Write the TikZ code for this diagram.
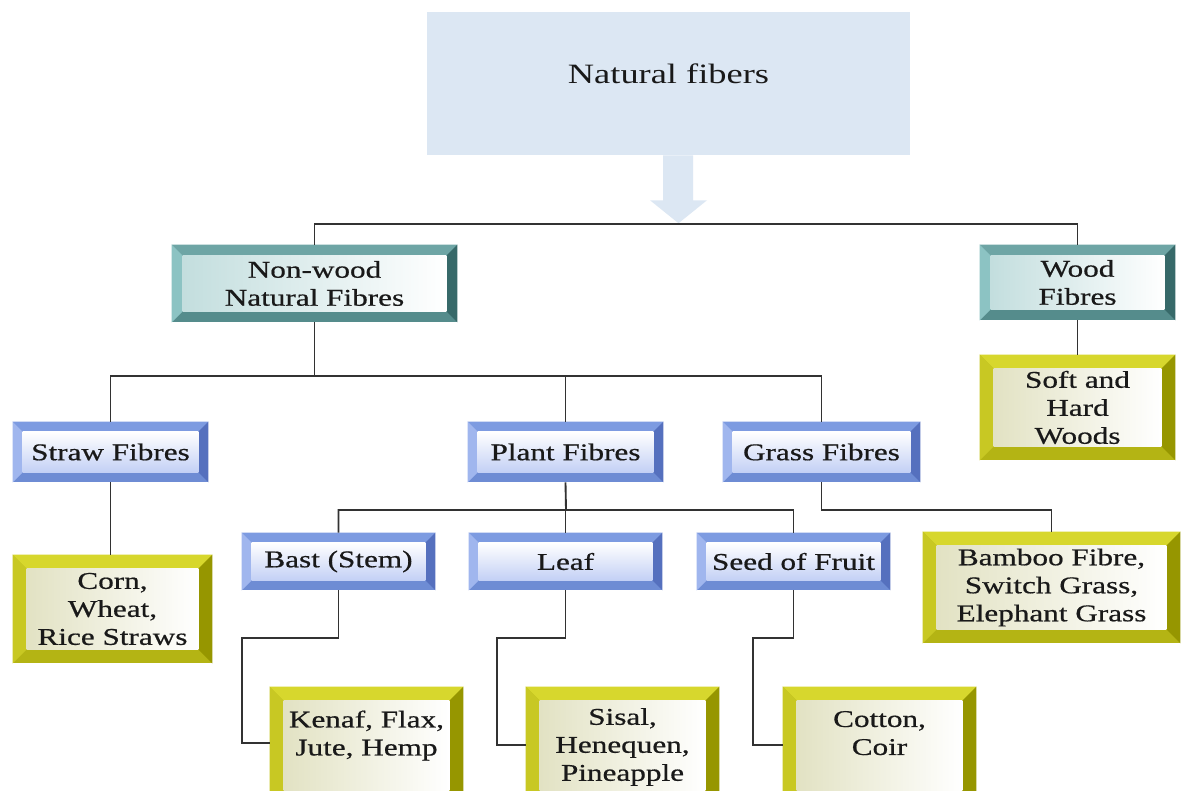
\documentclass[tikz,border=0pt]{standalone}
\usepackage{fontspec}
\setmainfont{Liberation Serif}[FakeStretch=1.3]
\newfontfamily\boxfont{Liberation Serif}[FakeStretch=1.3,FakeBold=0.6]
\usetikzlibrary{calc,backgrounds}

\definecolor{txt}{RGB}{25,25,25}
\definecolor{wire}{RGB}{50,50,50}
\definecolor{topfill}{RGB}{220,231,243}
\definecolor{tealT}{RGB}{110,165,165}
\definecolor{tealL}{RGB}{140,195,195}
\definecolor{tealM}{RGB}{85,140,140}
\definecolor{tealD}{RGB}{55,105,105}
\definecolor{tealF}{RGB}{195,222,222}
\definecolor{blueT}{RGB}{125,155,225}
\definecolor{blueL}{RGB}{160,182,238}
\definecolor{blueM}{RGB}{110,140,212}
\definecolor{blueD}{RGB}{85,112,190}
\definecolor{blueF}{RGB}{195,208,245}
\definecolor{yelT}{RGB}{215,215,45}
\definecolor{yelL}{RGB}{200,200,35}
\definecolor{yelM}{RGB}{180,180,20}
\definecolor{yelD}{RGB}{150,150,0}
\definecolor{yelF}{RGB}{226,226,195}

\tikzset{
  tealface/.style={left color=tealF, right color=white},
  blueface/.style={top color=white, bottom color=blueF},
  yelface/.style={left color=yelF, right color=white},
  box/.style={inner sep=0pt, align=center, text=txt, minimum width=146.25pt, minimum height=45pt,
    font=\boxfont\fontsize{18}{21}\selectfont},
  topbox/.style={fill=topfill, minimum width=362.25pt, minimum height=107.25pt, text=txt,
    font=\fontsize{21}{25}\selectfont, text height=15pt, text depth=15pt},
  wire/.style={draw=wire, line width=1.4pt}
}

% bevelled frame behind a node: node, colour set, depth
\newcommand\bevel[3]{%
  \fill[#2M] (#1.south west) rectangle (#1.north east);
  \fill[#2T] (#1.north west) -- (#1.north east) -- ($(#1.north east)+(-#3,#3)$) -- ($(#1.north west)+(#3,#3)$) -- cycle;
  \fill[#2L] (#1.north west) -- ($(#1.north west)+(#3,#3)$) -- ($(#1.south west)+(#3,-#3)$) -- (#1.south west) -- cycle;
  \fill[#2D] (#1.north east) -- ($(#1.north east)+(-#3,#3)$) -- ($(#1.south east)+(-#3,-#3)$) -- (#1.south east) -- cycle;
  \shade[#2face] ($(#1.north west)+(#3,#3)$) rectangle ($(#1.south east)+(-#3,-#3)$);
}

\begin{document}
\begin{tikzpicture}[x=0.75pt,y=0.75pt,yscale=-1,xscale=1]
\useasboundingbox (0,0) rectangle (1181,791);
\clip (0,0) rectangle (1181,791);

% Title box and arrow
\node[topbox] (top) at (668.5,83.5) {Natural fibers};
\fill[topfill] ($(top.south)+(-5.5,0)$) -- ++(0,45) -- ++(-13,0) -- ++(28.5,23) -- ++(28.5,-23) -- ++(-14,0) -- ++(0,-45) -- cycle;

% Level 1
\node[box, minimum width=213.75pt, minimum height=57.75pt] (nonwood) at (314.5,283.5) {Non-wood\\Natural Fibres};
\node[box, minimum height=56.25pt] (wood) at (1077.5,282.5) {Wood\\Fibres};
\node[box, minimum height=78.75pt] (softhard) at (1077.5,407.5) {Soft and\\Hard\\Woods};

% Level 2
\node[box] (straw) at (110.5,452) {Straw Fibres};
\node[box] (plant) at (565.5,452) {Plant Fibres};
\node[box, minimum width=147.75pt] (grass) at (821.5,452) {Grass Fibres};
\node[box, minimum width=149.25pt, minimum height=81pt] (corn) at (112.5,609) {Corn,\\Wheat,\\Rice Straws};
\node[box, minimum width=192.75pt, minimum height=83.25pt] (bamboo) at (1051.5,587.5) {Bamboo Fibre,\\Switch Grass,\\Elephant Grass};

% Level 3
\node[box, minimum width=144.75pt, minimum height=42.75pt] (bast) at (338.5,561.5) {Bast (Stem)};
\node[box, minimum width=144.75pt, minimum height=42.75pt] (leaf) at (565.5,561.5) {Leaf};
\node[box, minimum width=144.75pt, minimum height=42.75pt] (seed) at (793.5,561.5) {Seed of Fruit};
\node[box, minimum width=144.75pt, minimum height=90pt] (kenaf) at (366.5,747) {Kenaf, Flax,\\Jute, Hemp\\\mbox{}};
\node[box, minimum width=144.75pt, minimum height=90pt] (sisal) at (622.5,747) {Sisal,\\Henequen,\\Pineapple};
\node[box, minimum width=144.75pt, minimum height=90pt] (cotton) at (879.5,747) {Cotton,\\Coir\\\mbox{}};

\begin{pgfonlayer}{background}
\fill[white] (0,0) rectangle (1181,791);
\bevel{nonwood}{teal}{11}
\bevel{wood}{teal}{11}
\bevel{softhard}{yel}{14}
\bevel{straw}{blue}{10}
\bevel{plant}{blue}{10}
\bevel{grass}{blue}{10}
\bevel{corn}{yel}{14}
\bevel{bamboo}{yel}{14}
\bevel{bast}{blue}{10}
\bevel{leaf}{blue}{10}
\bevel{seed}{blue}{10}
\bevel{kenaf}{yel}{14}
\bevel{sisal}{yel}{14}
\bevel{cotton}{yel}{14}
\end{pgfonlayer}

% Connectors
\coordinate (split1) at (678,224);
\coordinate (split2) at (314.5,376);
\coordinate (split3) at (566,510);
\coordinate (bend1) at (242,638);
\coordinate (bend2) at (497,638);
\coordinate (bend3) at (753,638);

\draw[wire] (nonwood.north) |- (split1) -| (wood.north);
\draw[wire] (wood.south) -- (softhard.north);
\draw[wire] (nonwood.south) -- (split2) -| (straw.north);
\draw[wire] (split2) -| (plant.north);
\draw[wire] (split2) -| (grass.north);
\draw[wire] (straw.south) -- (straw.south |- corn.north);
\draw[wire] (plant.south) -- (split3) -| (bast.north);
\draw[wire] (split3) -| (leaf.north);
\draw[wire] (split3) -| (seed.north);
\draw[wire] (grass.south) -- ++(0,28) -| (bamboo.north);
\draw[wire] (bast.south) |- (bend1) |- ($(kenaf.west)+(0,-4)$);
\draw[wire] (leaf.south) |- (bend2) |- ($(sisal.west)+(0,-2)$);
\draw[wire] (seed.south) |- (bend3) |- ($(cotton.west)+(0,-2)$);

\end{tikzpicture}
\end{document}
